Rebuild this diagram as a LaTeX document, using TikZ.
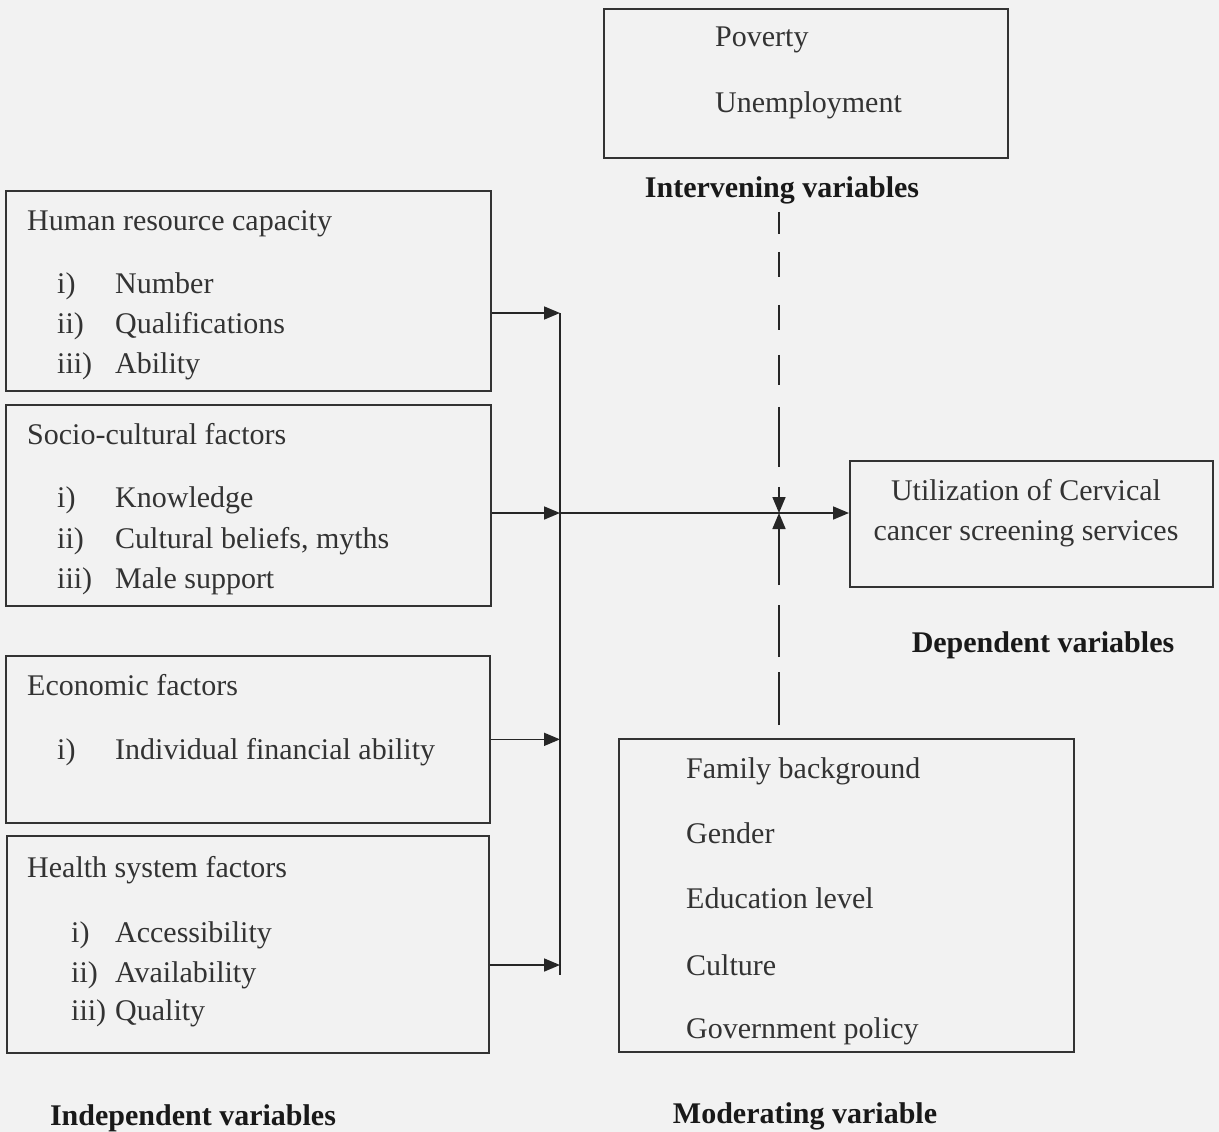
\documentclass[tikz,border=0pt]{standalone}
\usepackage{fontspec}
\setmainfont{Liberation Serif}
\usetikzlibrary{arrows.meta,positioning}
\newcommand\diagfont{\fontsize{30}{36}\selectfont}
\tikzset{
  box/.style={draw=black!80,line width=1.7pt,anchor=north west,inner sep=0pt},
  txt/.style={anchor=base west,inner sep=0pt,text=black!80},
  ctxt/.style={anchor=base,inner sep=0pt,text=black!80},
  head/.style={anchor=base,inner sep=0pt,text=black!90,font=\diagfont\bfseries},
  link/.style={line width=1.7pt,draw=black!85},
  arr/.style={link,-{Triangle[length=16pt,width=13pt]}},
  every node/.style={font=\diagfont}
}

\begin{document}
\begin{tikzpicture}[x=1pt,y=-1pt]
  \fill[black!5] (0,0) rectangle (1219,1132);
  \useasboundingbox (0,0) rectangle (1219,1132);

  % boxes
  \node[box,minimum width=404pt,minimum height=149pt] (interv) at (603,8) {};
  \node[box,minimum width=485pt,minimum height=200pt] (hr) at (5,190) {};
  \node[box,minimum width=485pt,minimum height=201pt] (socio) at (5,404) {};
  \node[box,minimum width=363pt,minimum height=126pt] (util) at (849,460) {};
  \node[box,minimum width=484pt,minimum height=167pt] (econ) at (5,655) {};
  \node[box,minimum width=455pt,minimum height=313pt] (moder) at (618,738) {};
  \node[box,minimum width=482pt,minimum height=217pt] (health) at (6,835) {};

  % intervening
  \node[txt] (pov) at (715,47) {Poverty};
  \node[txt] (unemp) at (715,113) {Unemployment};
  \node[head] (ivlab) at (782,197) {Intervening variables};

  % independent
  \node[txt] (hrt) at (27,230) {Human resource capacity};
  \node[txt] (hr1) at (57,293) {\makebox[58pt][l]{i)}Number};
  \node[txt] (hr2) at (57,333) {\makebox[58pt][l]{ii)}Qualifications};
  \node[txt] (hr3) at (57,373) {\makebox[58pt][l]{iii)}Ability};
  \node[txt] (sct) at (27,444) {Socio-cultural factors};
  \node[txt] (sc1) at (57,507) {\makebox[58pt][l]{i)}Knowledge};
  \node[txt] (sc2) at (57,548) {\makebox[58pt][l]{ii)}Cultural beliefs, myths};
  \node[txt] (sc3) at (57,588) {\makebox[58pt][l]{iii)}Male support};
  \node[txt] (ect) at (27,695) {Economic factors};
  \node[txt] (ec1) at (57,759) {\makebox[58pt][l]{i)}Individual financial ability};
  \node[txt] (hst) at (27,877) {Health system factors};
  \node[txt] (hs1) at (71,942) {\makebox[44pt][l]{i)}Accessibility};
  \node[txt] (hs2) at (71,982) {\makebox[44pt][l]{ii)}Availability};
  \node[txt] (hs3) at (71,1020) {\makebox[44pt][l]{iii)}Quality};
  \node[head] (idlab) at (193,1125) {Independent variables};

  % dependent
  \node[ctxt] (ut1) at (1026,500) {Utilization of Cervical};
  \node[ctxt] (ut2) at (1026,540) {cancer screening services};
  \node[head] (dvlab) at (1043,652) {Dependent variables};

  % moderating
  \node[txt] (md1) at (686,778) {Family background};
  \node[txt] (md2) at (686,843) {Gender};
  \node[txt] (md3) at (686,908) {Education level};
  \node[txt] (md4) at (686,975) {Culture};
  \node[txt] (md5) at (686,1038) {Government policy};
  \node[head] (mvlab) at (805,1123) {Moderating variable};

  % connectors
  \coordinate (bustop) at (560,313);
  \coordinate (busmid) at (560,513);
  \coordinate (hsin) at (560,965);
  \coordinate (busbot) at (560,975);
  \coordinate (meet) at (779,513);
  \draw[link] (bustop) -- (busbot);
  \draw[arr] (hr.east |- bustop) -- (bustop);
  \draw[arr] (socio.east |- busmid) -- (busmid);
  \draw[arr] (econ.east) -- (econ.east -| bustop);
  \draw[arr] (health.east |- hsin) -- (hsin);
  \draw[arr] (busmid) -- (util.west |- busmid);
  \draw[arr,dash pattern=on 22pt off 18pt on 25pt off 28pt on 25pt off 25pt on 30pt off 22pt on 60pt off 20pt]
    ([yshift=-8pt]ivlab.south -| meet) -- (meet);
  \draw[arr,dash pattern=on 0pt off 13pt on 53pt off 15pt on 52pt off 20pt on 80pt]
    (moder.north -| meet) -- (meet);
\end{tikzpicture}
\end{document}
